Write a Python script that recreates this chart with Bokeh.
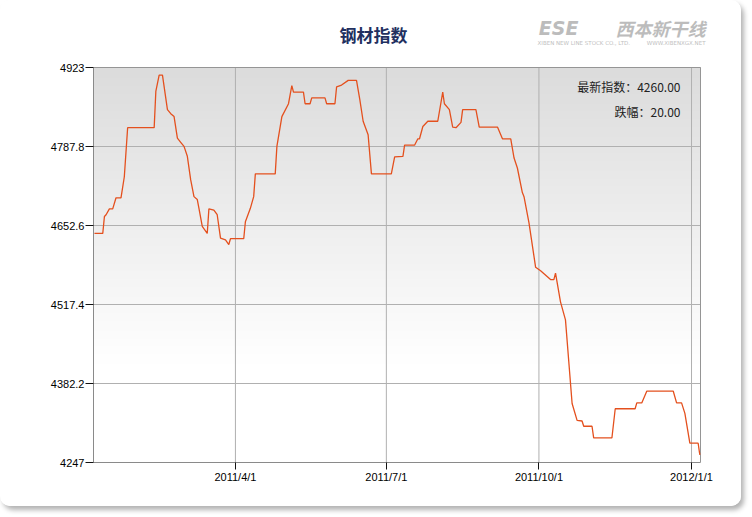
from datetime import datetime
import numpy as np
import pandas as pd
from bokeh.plotting import figure
from bokeh.models import (ColumnDataSource, Range1d, FixedTicker, CustomJSTickFormatter, Label)
from bokeh.embed import file_html
from bokeh.resources import INLINE

# ---------------- data ----------------
title_text = "钢材指数"
latest_label = "最新指数：4260.00"
change_label = "跌幅：20.00"

dates = ["2011-01-06","2011-01-11","2011-01-12","2011-01-13","2011-01-15","2011-01-17","2011-01-19","2011-01-22","2011-01-24","2011-01-26",
         "2011-02-11","2011-02-12","2011-02-14","2011-02-16","2011-02-19","2011-02-21","2011-02-23","2011-02-25","2011-02-27","2011-03-01",
         "2011-03-03","2011-03-05","2011-03-07","2011-03-09","2011-03-10","2011-03-12","2011-03-15","2011-03-16","2011-03-19","2011-03-21",
         "2011-03-23","2011-03-26","2011-03-28","2011-03-29","2011-04-06","2011-04-07","2011-04-10","2011-04-12","2011-04-13","2011-04-25",
         "2011-04-26","2011-04-29","2011-05-03","2011-05-05","2011-05-06","2011-05-12","2011-05-13","2011-05-16","2011-05-17","2011-05-25",
         "2011-05-26","2011-05-31","2011-06-01","2011-06-04","2011-06-08","2011-06-13","2011-06-15","2011-06-17","2011-06-20","2011-06-22",
         "2011-07-04","2011-07-06","2011-07-11","2011-07-12","2011-07-18","2011-07-20","2011-07-21","2011-07-23","2011-07-26","2011-08-01",
         "2011-08-04","2011-08-05","2011-08-08","2011-08-10","2011-08-12","2011-08-15","2011-08-16","2011-08-24","2011-08-26","2011-09-06",
         "2011-09-09","2011-09-14","2011-09-16","2011-09-18","2011-09-21","2011-09-22","2011-09-25","2011-09-29","2011-10-02","2011-10-08",
         "2011-10-10","2011-10-11","2011-10-14","2011-10-17","2011-10-21","2011-10-24","2011-10-27","2011-10-28","2011-11-02","2011-11-03",
         "2011-11-14","2011-11-16","2011-11-28","2011-11-29","2011-12-02","2011-12-05","2011-12-21","2011-12-23","2011-12-26","2011-12-28",
         "2011-12-31","2012-01-05","2012-01-06"]

values = [4639,4639,4668,4671,4681,4681,4700,4700,4736,4820,
          4820,4882,4910,4910,4851,4844,4839,4802,4795,4788,
          4771,4731,4702,4697,4682,4651,4639,4681,4679,4671,
          4631,4628,4620,4630,4630,4659,4682,4702,4741,4741,
          4788,4839,4861,4892,4881,4881,4861,4861,4871,4871,
          4861,4861,4890,4893,4901,4901,4868,4831,4808,4741,
          4741,4770,4771,4790,4790,4801,4801,4822,4831,4831,
          4881,4861,4851,4821,4820,4829,4851,4851,4821,4821,
          4801,4801,4768,4751,4709,4702,4657,4581,4575,4560,
          4560,4571,4522,4491,4348,4319,4318,4309,4309,4289,
          4289,4339,4339,4349,4349,4369,4369,4349,4349,4331,
          4280,4280,4260]

y_ticks = [4247, 4382.2, 4517.4, 4652.6, 4787.8, 4923]
x_ticks = ["2011-04-01", "2011-07-01", "2011-10-01", "2012-01-01"]

x_start = pd.Timestamp(datetime(2011, 1, 5, 10))
x_end = pd.Timestamp(datetime(2012, 1, 6, 10))
y_min, y_max = y_ticks[0], y_ticks[-1]

# ---------------- layout (pixels) ----------------
W, H = 741, 506
LEFT, PLOT_W = 93, 607      # visible plot area
BOTTOM, PLOT_H = 44, 395
FRAME_W = W - LEFT          # frame extends to the right/top edges so texts can sit there
FRAME_H = H - BOTTOM

x_span = x_end - x_start
frame_x_end = x_start + x_span * (FRAME_W / PLOT_W)
frame_y_end = y_min + (y_max - y_min) * (FRAME_H / PLOT_H)

p = figure(width=W, height=H, x_axis_type="datetime",
           output_backend="svg", toolbar_location=None,
           x_range=Range1d(x_start, frame_x_end), y_range=Range1d(y_min, frame_y_end),
           min_border_left=LEFT, min_border_right=0, min_border_top=0, min_border_bottom=BOTTOM)
p.title.visible = False
p.background_fill_color = "white"
p.border_fill_color = "white"
p.outline_line_color = None
p.xgrid.visible = False
p.ygrid.visible = False
p.styles = {"box-shadow": "3px 4px 5px rgba(0,0,0,0.30)", "border-radius": "10px", "overflow": "hidden"}

# vertical gradient in plot area
n = 200
t = np.linspace(0, 1, n)  # 0 bottom -> 1 top
top_frac = 1 - t
g = np.where(top_frac < 0.75, 220 + (255 - 220) * (top_frac / 0.75), 255).astype(np.uint32)
img = np.zeros((n, 1), dtype=np.uint32)
view = img.view(dtype=np.uint8).reshape((n, 1, 4))
view[:, 0, 0] = g
view[:, 0, 1] = g
view[:, 0, 2] = g
view[:, 0, 3] = 255
dw = x_span.total_seconds() * 1000.0
p.image_rgba(image=[img], x=x_start, y=y_min, dw=dw, dh=y_max - y_min, level="image")

# grid lines (limited to the visible plot area)
x_tick_dt = pd.to_datetime(x_ticks)
p.segment(x0=x_tick_dt, x1=x_tick_dt, y0=[y_min] * len(x_ticks), y1=[y_max] * len(x_ticks),
          line_color="#b0b0b0", line_width=1, level="underlay")
p.segment(x0=[x_start] * len(y_ticks), x1=[x_end] * len(y_ticks), y0=y_ticks, y1=y_ticks,
          line_color="#b0b0b0", line_width=1, level="underlay")
# top and right border of the plot area
p.segment(x0=[x_start, x_end], x1=[x_end, x_end], y0=[y_max, y_min], y1=[y_max, y_max],
          line_color="#959595", line_width=1, level="underlay")

src = ColumnDataSource(dict(x=pd.to_datetime(dates), y=values))
p.line("x", "y", source=src, line_color="#E4501E", line_width=1.3)

# axes
x_tick_ms = [int(pd.Timestamp(d).value // 10**6) for d in x_ticks]
p.xaxis.ticker = FixedTicker(ticks=x_tick_ms)
p.xaxis.formatter = CustomJSTickFormatter(code="""
const d = new Date(tick);
return d.getUTCFullYear() + '/' + (d.getUTCMonth() + 1) + '/' + d.getUTCDate();
""")
p.yaxis.ticker = FixedTicker(ticks=y_ticks)
p.yaxis.formatter = CustomJSTickFormatter(code="return (Math.round(tick * 10) / 10).toString();")
p.xaxis.bounds = (x_start.to_pydatetime(), x_end.to_pydatetime())
p.yaxis.bounds = (y_min, y_max)

for ax in (p.xaxis[0], p.yaxis[0]):
    ax.axis_line_color = "#8a8a8a"
    ax.major_tick_line_color = "#111111"
    ax.minor_tick_line_color = None
    ax.major_tick_in = 0
    ax.major_label_text_font = "Liberation Sans"
    ax.major_label_text_font_size = "11px"
    ax.major_label_text_color = "#000000"
p.yaxis.major_tick_out = 8
p.yaxis.major_label_standoff = 1
p.xaxis.major_tick_out = 7
p.xaxis.major_label_standoff = 1

# title
p.add_layout(Label(x=x_start, y=y_max, x_offset=280, y_offset=33, text=title_text,
                   text_font="Noto Sans CJK SC", text_font_style="bold", text_font_size="17px",
                   text_color="#22305f", text_align="center", text_baseline="middle"))

# logo (approximation)
p.add_layout(Label(x=x_end, y=y_max, x_offset=5, y_offset=40, text="西本新干线",
                   text_font="Noto Sans CJK SC", text_font_style="bold italic", text_font_size="18px",
                   text_color="#bcbcbc", text_align="right", text_baseline="middle"))
p.add_layout(Label(x=x_end, y=y_max, x_offset=-122, y_offset=40, text="ESE",
                   text_font="DejaVu Sans", text_font_style="bold italic", text_font_size="19px",
                   text_color="#bcbcbc", text_align="right", text_baseline="middle"))
p.add_layout(Label(x=x_end, y=y_max, x_offset=-163, y_offset=25,
                   text="XIBEN NEW LINE STOCK CO., LTD.",
                   text_font="DejaVu Sans", text_font_size="5.5px",
                   text_color="#c0c0c0", text_align="left", text_baseline="middle"))
p.add_layout(Label(x=x_end, y=y_max, x_offset=5, y_offset=25,
                   text="WWW.XIBENXGX.NET",
                   text_font="DejaVu Sans", text_font_size="5.5px",
                   text_color="#c0c0c0", text_align="right", text_baseline="middle"))

# info labels
p.add_layout(Label(x=x_end, y=y_max, x_offset=-20, y_offset=-19, text=latest_label,
                   text_font="Noto Sans CJK SC", text_font_size="12px",
                   text_color="#222222", text_align="right", text_baseline="middle"))
p.add_layout(Label(x=x_end, y=y_max, x_offset=-20, y_offset=-44, text=change_label,
                   text_font="Noto Sans CJK SC", text_font_size="12px",
                   text_color="#222222", text_align="right", text_baseline="middle"))

open("out.html", "w").write(file_html(p, INLINE))
